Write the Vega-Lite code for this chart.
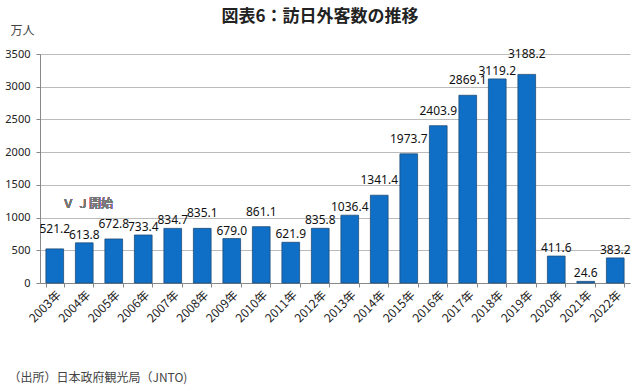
{
  "$schema": "https://vega.github.io/schema/vega-lite/v6.json",
  "width": 590,
  "height": 229,
  "autosize": "none",
  "padding": {"left": 40, "top": 54, "right": 10, "bottom": 108},
  "background": "white",
  "title": {
    "text": "図表6：訪日外客数の推移",
    "font": "Noto Sans CJK JP",
    "fontSize": 17,
    "fontWeight": "bold",
    "color": "#222222",
    "anchor": "middle",
    "dx": -15,
    "offset": -2
  },
  "config": {
    "view": {"stroke": null},
    "font": "Noto Sans CJK JP"
  },
  "data": {
    "values": [
      {"year": "2003年", "value": 521.2},
      {"year": "2004年", "value": 613.8},
      {"year": "2005年", "value": 672.8},
      {"year": "2006年", "value": 733.4},
      {"year": "2007年", "value": 834.7},
      {"year": "2008年", "value": 835.1},
      {"year": "2009年", "value": 679.0},
      {"year": "2010年", "value": 861.1},
      {"year": "2011年", "value": 621.9},
      {"year": "2012年", "value": 835.8},
      {"year": "2013年", "value": 1036.4},
      {"year": "2014年", "value": 1341.4},
      {"year": "2015年", "value": 1973.7},
      {"year": "2016年", "value": 2403.9},
      {"year": "2017年", "value": 2869.1},
      {"year": "2018年", "value": 3119.2},
      {"year": "2019年", "value": 3188.2},
      {"year": "2020年", "value": 411.6},
      {"year": "2021年", "value": 24.6},
      {"year": "2022年", "value": 383.2}
    ]
  },
  "encoding": {
    "x": {
      "field": "year",
      "type": "nominal",
      "sort": null,
      "scale": {"paddingInner": 0.4, "paddingOuter": 0.2},
      "axis": {
        "title": "（出所）日本政府観光局（JNTO)",
        "titleFont": "Noto Sans CJK JP",
        "titleFontSize": 12,
        "titleFontWeight": "normal",
        "titleColor": "#444444",
        "titleAnchor": "start",
        "titleAlign": "left",
        "titleBaseline": "middle",
        "titleX": -32,
        "titleY": 94,
        "labelAngle": -45,
        "labelFontSize": 12,
        "labelColor": "#222222",
        "labelFont": "Noto Sans CJK JP",
        "labelPadding": 2,
        "domainColor": "#888888",
        "tickColor": "#888888",
        "tickSize": 4,
        "tickBand": "extent"
      }
    },
    "y": {
      "field": "value",
      "type": "quantitative",
      "scale": {"domain": [0, 3500], "nice": false},
      "axis": {
        "values": [0, 500, 1000, 1500, 2000, 2500, 3000, 3500],
        "format": "d",
        "title": "万人",
        "titleFont": "Noto Sans CJK JP",
        "titleAngle": 0,
        "titleFontSize": 12,
        "titleFontWeight": "normal",
        "titleColor": "#444444",
        "titleX": -18,
        "titleY": -24,
        "titleAlign": "center",
        "titleBaseline": "middle",
        "labelFont": "Noto Sans",
        "labelFontSize": 11,
        "labelColor": "#222222",
        "labelPadding": 6,
        "gridColor": "#bbbbbb",
        "domainColor": "#888888",
        "tickColor": "#888888",
        "tickSize": 4
      }
    }
  },
  "layer": [
    {
      "mark": {"type": "bar", "color": "#0F6FC6", "stroke": "#1F4E79", "strokeWidth": 0.8}
    },
    {
      "transform": [{"filter": {"field": "year", "oneOf": ["2004年", "2006年", "2007年", "2009年", "2011年", "2012年", "2013年", "2018年", "2020年", "2021年", "2022年"]}}],
      "mark": {"type": "text", "baseline": "bottom", "dy": -1, "fontSize": 12, "color": "#111111", "font": "Noto Sans"},
      "encoding": {
        "text": {"field": "value", "type": "quantitative", "format": ".1f"}
      }
    },
    {
      "transform": [{"filter": {"field": "year", "oneOf": ["2005年", "2008年", "2010年", "2014年", "2015年", "2016年", "2017年"]}}],
      "mark": {"type": "text", "baseline": "bottom", "dy": -8, "fontSize": 12, "color": "#111111", "font": "Noto Sans"},
      "encoding": {
        "text": {"field": "value", "type": "quantitative", "format": ".1f"}
      }
    },
    {
      "transform": [{"filter": {"field": "year", "oneOf": ["2003年", "2019年"]}}],
      "mark": {"type": "text", "baseline": "bottom", "dy": -13, "fontSize": 12, "color": "#111111", "font": "Noto Sans"},
      "encoding": {
        "text": {"field": "value", "type": "quantitative", "format": ".1f"}
      }
    },
    {
      "mark": {"type": "text", "align": "left", "baseline": "middle", "fontSize": 12, "fontWeight": "normal", "font": "Noto Sans CJK JP", "color": "#777777", "dx": -22},
      "encoding": {
        "x": {"datum": "2004年"},
        "y": {"datum": 1200},
        "text": {"value": "Ｖ Ｊ開始"}
      }
    }
  ]
}
